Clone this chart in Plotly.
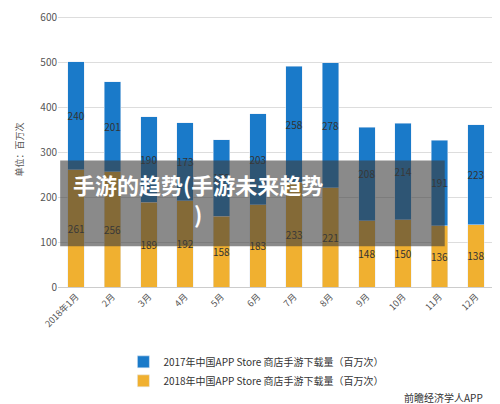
import plotly.graph_objects as go

months = ["2018年1月", "2月", "3月", "4月", "5月", "6月", "7月", "8月", "9月", "10月", "11月", "12月"]
downloads_2018 = [261, 256, 189, 192, 158, 183, 233, 221, 148, 150, 136, 138]
downloads_2017 = [240, 201, 190, 173, 170, 203, 258, 278, 208, 214, 191, 223]

BLUE = "#1a7ac9"
GOLD = "#f0b030"

fig = go.Figure()
fig.add_trace(go.Bar(
    x=months, y=downloads_2018, name="2018年中国APP Store 商店手游下载量（百万次）",
    marker_color=GOLD, text=downloads_2018, textposition="inside", textangle=0,
    insidetextanchor="middle", textfont=dict(color="#333", size=10),
))
fig.add_trace(go.Bar(
    x=months, y=downloads_2017, name="2017年中国APP Store 商店手游下载量（百万次）",
    marker_color=BLUE, text=downloads_2017, textposition="inside", textangle=0,
    insidetextanchor="middle", textfont=dict(color="#333", size=10),
))

fig.update_layout(
    barmode="stack", bargap=0.55,
    width=500, height=404,
    margin=dict(l=50, r=14, t=4, b=125),
    plot_bgcolor="white", paper_bgcolor="white",
    font=dict(family="Noto Sans CJK SC", size=10, color="#555"),
    uniformtext=dict(minsize=9, mode="show"),
    legend=dict(orientation="v", x=0.15, y=0.16, xref="paper", yref="container",
                xanchor="left", yanchor="top",
                traceorder="reversed", font=dict(size=10, color="#333")),
    yaxis=dict(range=[0, 612], tickvals=[0, 100, 200, 300, 400, 500, 600],
               gridcolor="#ddd", zeroline=False,
               automargin=False, title=dict(text="单位：百万次", font=dict(size=9))),
    xaxis=dict(tickangle=-45, tickfont=dict(size=9), showline=True, linecolor="#ccc",
               automargin=False),
    shapes=[dict(type="rect", xref="paper", yref="paper", x0=0.005, x1=0.887,
                 y0=0.148, y1=0.46, fillcolor="rgba(60,60,60,0.6)", line_width=0)],
    annotations=[
        dict(text="<b>手游的趋势(手游未来趋势</b><br><b>)</b>", xref="paper", yref="paper",
             x=0.03, y=0.44, xanchor="left", yanchor="top", align="center",
             showarrow=False,
             font=dict(size=22, color="white", family="Noto Sans CJK SC")),
        dict(text="前瞻经济学人APP", xref="paper", yref="paper", x=0.98, y=-0.40,
             xanchor="right", yanchor="middle", showarrow=False,
             font=dict(size=10, color="#333")),
    ],
)
fig.write_html("out.html")
